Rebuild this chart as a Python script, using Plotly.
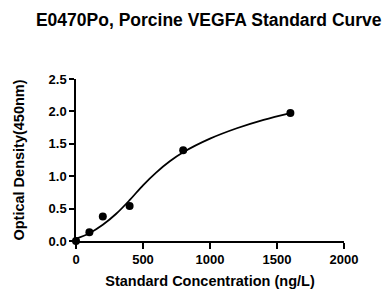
import plotly.graph_objects as go

conc = [0, 100, 200, 400, 800, 1600]
od = [0.0, 0.136, 0.38, 0.54, 1.40, 1.975]

curve_x = [0, 100, 200, 300, 400, 500, 600, 700, 800, 1000, 1200, 1400, 1600]
curve_y = [0.035, 0.12, 0.25, 0.42, 0.63, 0.86, 1.06, 1.23, 1.37, 1.58, 1.74, 1.87, 1.975]

x_ticks = [0, 500, 1000, 1500, 2000]
y_ticks = [0.0, 0.5, 1.0, 1.5, 2.0, 2.5]
y_labels = ["0.0", "0.5", "1.0", "1.5", "2.0", "2.5"]

fig = go.Figure()
fig.add_trace(go.Scatter(x=curve_x, y=curve_y, mode="lines",
                         line=dict(color="black", width=1.8, shape="spline"),
                         cliponaxis=False, showlegend=False))
fig.add_trace(go.Scatter(x=conc, y=od, mode="markers",
                         marker=dict(color="black", size=8),
                         cliponaxis=False, showlegend=False))

font = "Liberation Sans, Arial, sans-serif"
fig.update_layout(
    width=383, height=289,
    margin=dict(l=76, r=39, t=79, b=48, autoexpand=False),
    plot_bgcolor="white", paper_bgcolor="white",
    title=dict(text="<b>E0470Po, Porcine VEGFA Standard Curve</b>",
               x=0.545, xanchor="center", y=0.93, yanchor="middle",
               font=dict(family=font, size=17.5, color="black")),
    xaxis=dict(range=[0, 2000], tickvals=x_ticks, ticktext=[f"<b>{v}</b>" for v in x_ticks],
               showline=True, linecolor="black", linewidth=1.5, ticks="outside",
               ticklen=6, tickwidth=1.5, tickcolor="black", showgrid=False, zeroline=False,
               automargin=False,
               tickfont=dict(family=font, size=13, color="black"),
               title=dict(text="<b>Standard Concentration (ng/L)</b>", standoff=13,
                          font=dict(family=font, size=14.5, color="black"))),
    yaxis=dict(range=[0, 2.5], tickvals=y_ticks, ticktext=[f"<b>{v}</b>" for v in y_labels],
               showline=True, linecolor="black", linewidth=1.5, ticks="outside",
               ticklen=5, tickwidth=1.5, tickcolor="black", showgrid=False, zeroline=False,
               automargin=False,
               tickfont=dict(family=font, size=13, color="black"),
               title=dict(text="<b>Optical Density(450nm)</b>", standoff=20,
                          font=dict(family=font, size=14.5, color="black"))),
)
fig.write_html("out.html", config={"displayModeBar": False},
               post_script="document.body.style.margin='0';")
